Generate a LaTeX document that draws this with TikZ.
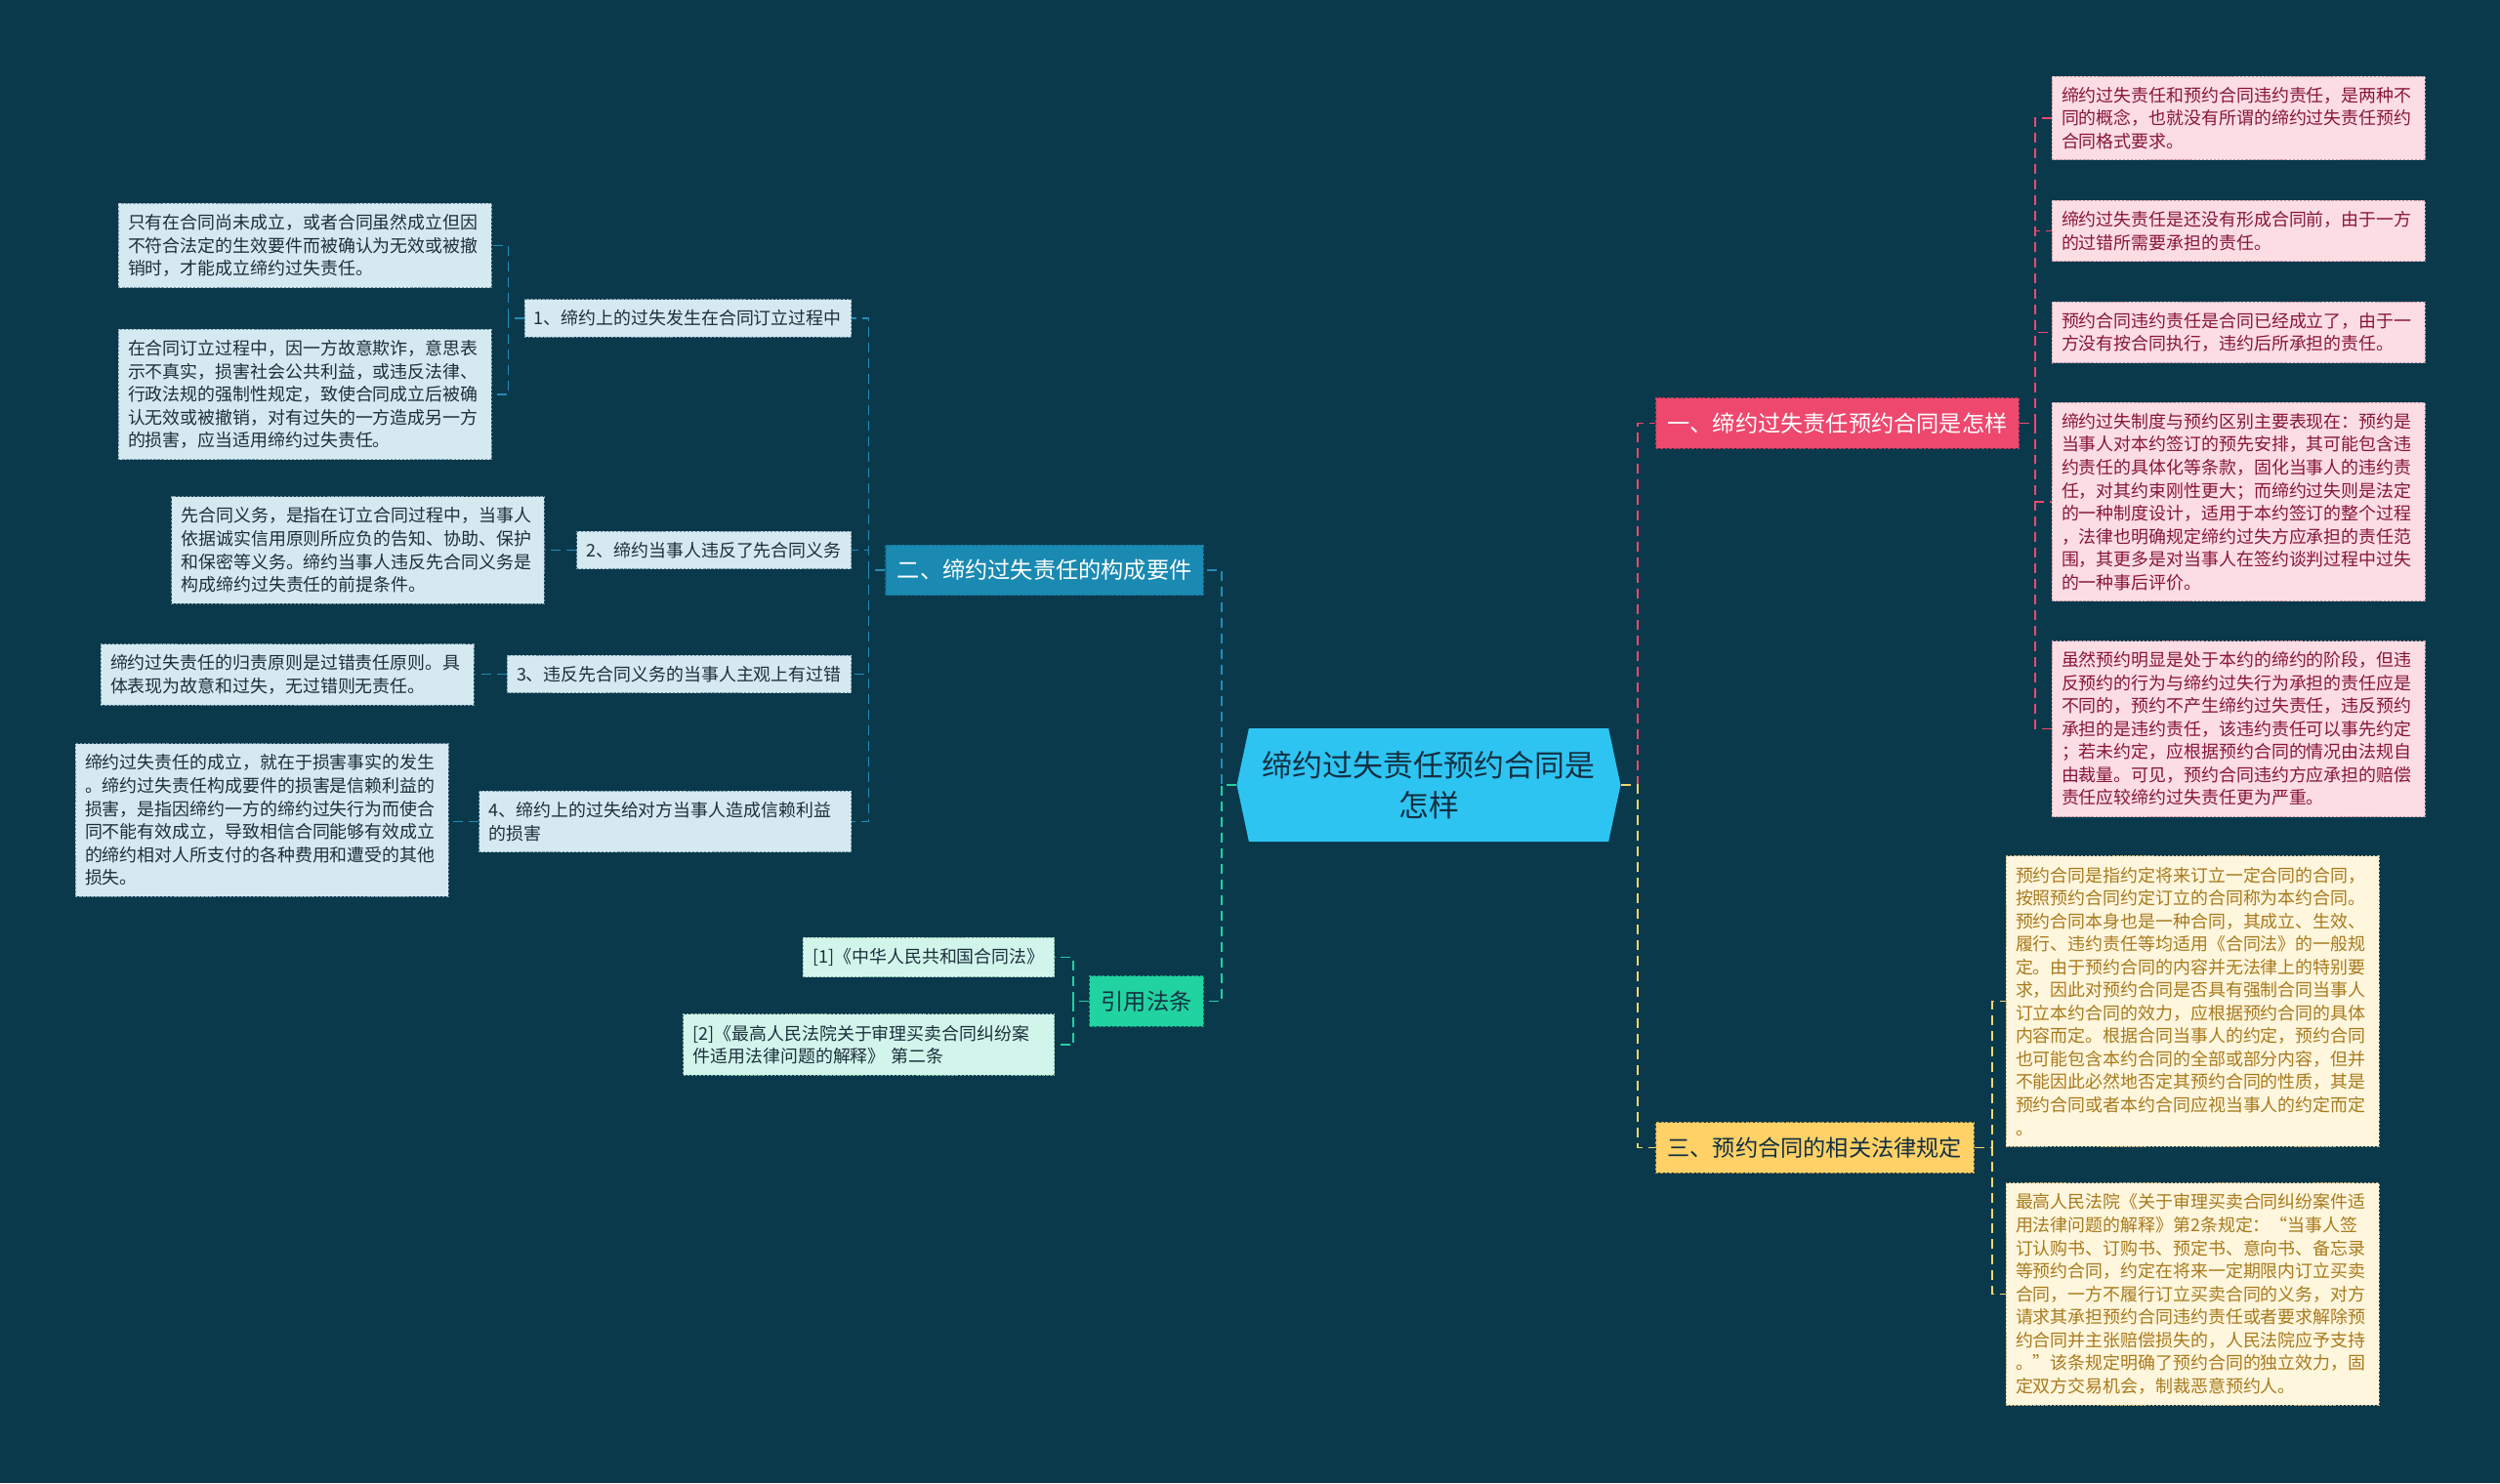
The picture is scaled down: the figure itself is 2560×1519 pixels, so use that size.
\documentclass[tikz,border=0pt]{standalone}
\usepackage{fontspec}
\setmainfont{Noto Sans CJK SC}
\usepackage{xcolor}
\usetikzlibrary{shapes.symbols}
\definecolor{bgnavy}{RGB}{10,57,76}
\definecolor{hubblue}{RGB}{46,196,242}
\definecolor{hubtext}{RGB}{18,48,66}
\definecolor{pinkmain}{RGB}{238,72,110}
\definecolor{pinkfill}{RGB}{252,221,228}
\definecolor{pinkedge}{RGB}{196,150,164}
\definecolor{pinktext}{RGB}{135,22,56}
\definecolor{bluemain}{RGB}{26,138,178}
\definecolor{bluefill}{RGB}{212,233,240}
\definecolor{blueedge}{RGB}{120,150,165}
\definecolor{bluetext}{RGB}{28,48,60}
\definecolor{bluelink}{RGB}{36,140,180}
\definecolor{yellowmain}{RGB}{255,209,102}
\definecolor{yellowfill}{RGB}{255,246,222}
\definecolor{yellowedge}{RGB}{200,180,130}
\definecolor{yellowtext}{RGB}{168,122,28}
\definecolor{yellowlink}{RGB}{245,215,110}
\definecolor{greenmain}{RGB}{32,211,160}
\definecolor{greenfill}{RGB}{210,245,235}
\definecolor{greenedge}{RGB}{130,180,165}

\begin{document}
\begin{tikzpicture}[x=0.02cm,y=-0.02cm,
base/.style={inner xsep=0.2cm,inner ysep=0.22cm,line width=0.5pt,dash pattern=on 1.4pt off 0.9pt},
leaf/.style={base,text width=7.24cm,align=left,font=\fontsize{10.2}{13.4}\selectfont},
pinkleaf/.style={leaf,fill=pinkfill,draw=pinkedge,text=pinktext},
yellowleaf/.style={leaf,fill=yellowfill,draw=yellowedge,text=yellowtext},
blueleaf/.style={leaf,fill=bluefill,draw=blueedge,text=bluetext},
greenleaf/.style={leaf,fill=greenfill,draw=greenedge,text=bluetext},
sub/.style={base,fill=bluefill,draw=blueedge,text=bluetext,anchor=east,font=\fontsize{10.2}{13.4}\selectfont},
ref/.style={base,fill=greenfill,draw=greenedge,text=bluetext,anchor=east,font=\fontsize{10.2}{13.4}\selectfont},
main/.style={inner xsep=0.24cm,inner ysep=0.3cm,line width=0.6pt,dash pattern=on 1.6pt off 1pt,font=\fontsize{13.2}{16}\selectfont},
hub/.style={shape=signal,signal to=west and east,signal pointer angle=156,fill=hubblue,text=hubtext,
minimum width=7.86cm,minimum height=2.32cm,align=center,font=\fontsize{17.6}{23.2}\selectfont},
link/.style={line width=1.1pt,dash pattern=on 0.2cm off 0.12cm}]
\fill[bgnavy] (0,0) rectangle (2560,1519);
\useasboundingbox (0,0) rectangle (2560,1519);

\node[hub] (hub) at (1463,804) {缔约过失责任预约合同是\\怎样};

\node[main,fill=pinkmain,draw=pinkmain!80!black,text=white,anchor=west] (one) at (1695,433.5) {一、缔约过失责任预约合同是怎样};
\node[main,fill=yellowmain,draw=yellowmain!75!black,text=hubtext,anchor=west] (three) at (1695,1175.5) {三、预约合同的相关法律规定};
\node[main,fill=bluemain,draw=bluemain!80!black,text=white,anchor=east] (two) at (1233,584) {二、缔约过失责任的构成要件};
\node[main,fill=greenmain,draw=greenmain!75!black,text=hubtext,anchor=east] (cite) at (1233,1025.5) {引用法条};

% pink side
\node[pinkleaf] (p1) at (2292,121) {缔约过失责任和预约合同违约责任，是两种不\\同的概念，也就没有所谓的缔约过失责任预约\\合同格式要求。};
\node[pinkleaf] (p2) at (2292,236.5) {缔约过失责任是还没有形成合同前，由于一方\\的过错所需要承担的责任。};
\node[pinkleaf] (p3) at (2292,340.5) {预约合同违约责任是合同已经成立了，由于一\\方没有按合同执行，违约后所承担的责任。};
\node[pinkleaf] (p4) at (2292,514) {缔约过失制度与预约区别主要表现在：预约是\\当事人对本约签订的预先安排，其可能包含违\\约责任的具体化等条款，固化当事人的违约责\\任，对其约束刚性更大；而缔约过失则是法定\\的一种制度设计，适用于本约签订的整个过程\\，法律也明确规定缔约过失方应承担的责任范\\围，其更多是对当事人在签约谈判过程中过失\\的一种事后评价。};
\node[pinkleaf] (p5) at (2292,746.5) {虽然预约明显是处于本约的缔约的阶段，但违\\反预约的行为与缔约过失行为承担的责任应是\\不同的，预约不产生缔约过失责任，违反预约\\承担的是违约责任，该违约责任可以事先约定\\；若未约定，应根据预约合同的情况由法规自\\由裁量。可见，预约合同违约方应承担的赔偿\\责任应较缔约过失责任更为严重。};

% yellow side
\node[yellowleaf] (y1) at (2245,1025.5) {预约合同是指约定将来订立一定合同的合同，\\按照预约合同约定订立的合同称为本约合同。\\预约合同本身也是一种合同，其成立、生效、\\履行、违约责任等均适用《合同法》的一般规\\定。由于预约合同的内容并无法律上的特别要\\求，因此对预约合同是否具有强制合同当事人\\订立本约合同的效力，应根据预约合同的具体\\内容而定。根据合同当事人的约定，预约合同\\也可能包含本约合同的全部或部分内容，但并\\不能因此必然地否定其预约合同的性质，其是\\预约合同或者本约合同应视当事人的约定而定\\。};
\node[yellowleaf] (y2) at (2245,1325.5) {最高人民法院《关于审理买卖合同纠纷案件适\\用法律问题的解释》第2条规定：“当事人签\\订认购书、订购书、预定书、意向书、备忘录\\等预约合同，约定在将来一定期限内订立买卖\\合同，一方不履行订立买卖合同的义务，对方\\请求其承担预约合同违约责任或者要求解除预\\约合同并主张赔偿损失的，人民法院应予支持\\。”该条规定明确了预约合同的独立效力，固\\定双方交易机会，制裁恶意预约人。};

% blue side
\node[sub] (c1) at (872,326) {1、缔约上的过失发生在合同订立过程中};
\node[sub] (c2) at (872,563.5) {2、缔约当事人违反了先合同义务};
\node[sub] (c3) at (872,690.5) {3、违反先合同义务的当事人主观上有过错};
\node[sub,text width=7.22cm,align=left] (c4) at (872,841.5) {4、缔约上的过失给对方当事人造成信赖利益\\的损害};
\node[blueleaf] (b1) at (312,251.5) {只有在合同尚未成立，或者合同虽然成立但因\\不符合法定的生效要件而被确认为无效或被撤\\销时，才能成立缔约过失责任。};
\node[blueleaf] (b2) at (312,404) {在合同订立过程中，因一方故意欺诈，意思表\\示不真实，损害社会公共利益，或违反法律、\\行政法规的强制性规定，致使合同成立后被确\\认无效或被撤销，对有过失的一方造成另一方\\的损害，应当适用缔约过失责任。};
\node[blueleaf] (b3) at (366.5,563.5) {先合同义务，是指在订立合同过程中，当事人\\依据诚实信用原则所应负的告知、协助、保护\\和保密等义务。缔约当事人违反先合同义务是\\构成缔约过失责任的前提条件。};
\node[blueleaf] (b4) at (294,691) {缔约过失责任的归责原则是过错责任原则。具\\体表现为故意和过失，无过错则无责任。};
\node[blueleaf] (b5) at (268,840) {缔约过失责任的成立，就在于损害事实的发生\\。缔约过失责任构成要件的损害是信赖利益的\\损害，是指因缔约一方的缔约过失行为而使合\\同不能有效成立，导致相信合同能够有效成立\\的缔约相对人所支付的各种费用和遭受的其他\\损失。};

% references
\node[ref] (r1) at (1080,980.5) {[1]《中华人民共和国合同法》};
\node[ref,text width=7.2cm,align=left] (r2) at (1080,1070) {[2]《最高人民法院关于审理买卖合同纠纷案\\件适用法律问题的解释》 第二条};

% links
\draw[link,pinkmain] (hub.east) -- ++(17,0) |- (one.west);
\draw[link,yellowlink] (hub.east) -- ++(17,0) |- (three.west);
\draw[link,bluelink] (hub.west) -- ++(-15,0) |- (two.east);
\draw[link,greenmain] (hub.west) -- ++(-15,0) |- (cite.east);
\foreach \n in {p1,p2,p3,p4,p5} \draw[link,pinkmain] (one.east) -- ++(16,0) |- (\n.west);
\foreach \n in {y1,y2} \draw[link,yellowlink] (three.east) -- ++(18,0) |- (\n.west);
\foreach \n in {c1,c2,c3,c4} \draw[link,bluelink] (two.west) -- ++(-17,0) |- (\n.east);
\foreach \n in {b1,b2} \draw[link,bluelink] (c1.west) -- ++(-16,0) |- (\n.east);
\draw[link,bluelink] (c2.west) -- (c2.west -| b3.east);
\draw[link,bluelink] (c3.west) -- (c3.west -| b4.east);
\draw[link,bluelink] (c4.west) -- (c4.west -| b5.east);
\foreach \n in {r1,r2} \draw[link,greenmain] (cite.west) -- ++(-16,0) |- (\n.east);
\end{tikzpicture}
\end{document}
